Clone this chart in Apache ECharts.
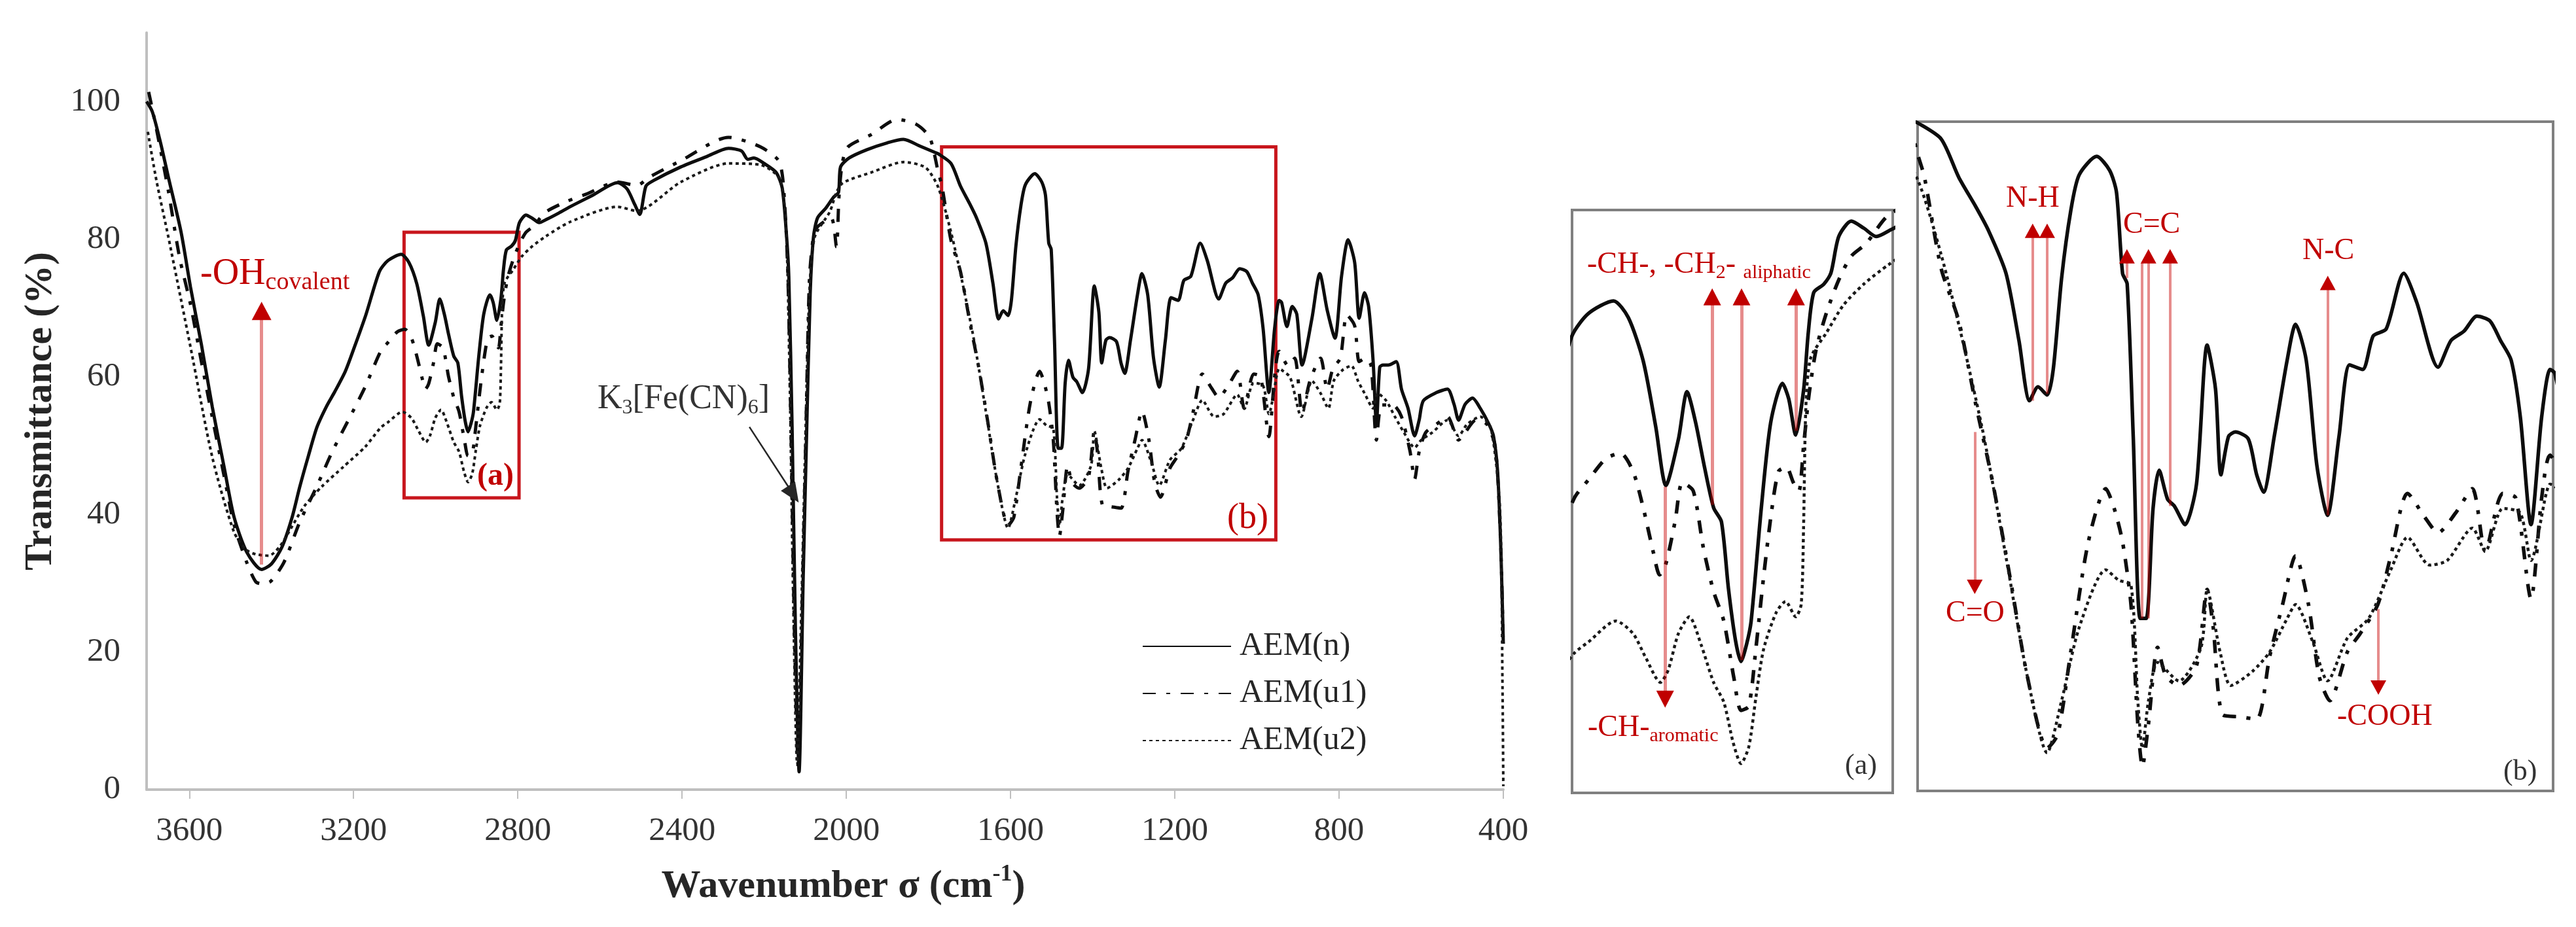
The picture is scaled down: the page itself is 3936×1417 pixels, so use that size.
<!DOCTYPE html>
<html>
<head>
<meta charset="utf-8">
<script src="https://cdn.jsdelivr.net/npm/echarts@6/dist/echarts.min.js"></script>
<style>
  html, body { margin: 0; background: #fff; }
  #chart { width: 3936px; height: 1417px; }
</style>
</head>
<body>
<div id="chart"></div>
<script>
const chart = echarts.init(document.getElementById('chart'));
const FONT = 'Liberation Serif';
const RED = '#C00000';
const PINK = 'rgba(200,0,0,0.45)';

// AEM(n) - solid
// prettier-ignore
const nX = [3704,3690,3670,3651,3620,3597,3570,3544,3515,3491,3460,3424,3400,3374,3350,3331,3310,3289,3265,3246,3220,3198,3170,3137,3116,3084,3065,3046,3030,3017,3001,2990,2979,2968,2956,2946,2937,2928,2921,2914,2908,2895,2883,2868,2860,2851,2841,2835,2828,2815,2806,2796,2780,2764,2748,2729,2700,2673,2620,2557,2534,2515,2503,2488,2470,2403,2340,2287,2255,2240,2225,2200,2171,2156,2145,2140,2132,2124,2115,2105,2097,2088,2080,2070,2050,2031,2019,2014,1993,1950,1900,1861,1820,1784,1776,1745,1722,1700,1683,1660,1643,1629,1618,1606,1598,1587,1575,1564,1541,1524,1515,1507,1501,1493,1484,1476,1467,1459,1448,1439,1425,1410,1396,1385,1378,1368,1359,1342,1331,1322,1308,1291,1280,1266,1252,1238,1223,1209,1192,1178,1161,1138,1121,1093,1076,1059,1042,1025,1011,997,985,971,957,946,940,927,914,903,890,866,847,829,810,794,778,762,751,738,728,717,709,701,693,680,661,648,632,616,605,595,563,536,520,509,493,475,456,435,424,414,406,400];
// prettier-ignore
const nY = [100.0,98.5,94.0,89.0,81.0,73.0,64.5,55.6,46.8,39.6,34.5,32.0,32.8,35.3,39.5,44.0,48.5,52.7,55.8,57.8,60.8,64.3,69.0,75.3,76.9,77.8,76.6,73.5,68.8,64.6,67.9,71.3,69.1,66.0,63.0,62.0,57.2,53.5,52.0,53.2,54.9,63.0,69.1,71.9,70.8,68.2,71.4,75.5,78.4,79.0,79.8,82.4,83.5,83.0,82.4,82.9,83.8,84.7,86.3,88.2,87.3,85.0,83.6,87.7,88.5,90.5,92.0,93.2,92.8,91.6,91.8,91.0,89.7,87.4,80.0,74.5,52.7,23.6,2.6,30.9,50.9,72.0,80.3,83.1,84.5,86.1,86.8,90.5,91.8,93.0,94.0,94.5,93.5,92.6,92.4,91.0,87.7,85.2,83.1,79.4,73.6,68.4,69.6,68.9,71.1,79.0,84.8,87.9,89.5,88.3,86.4,79.4,78.5,65.3,49.6,49.6,59.1,62.4,59.9,59.3,57.7,61.2,73.2,69.4,62.0,65.3,65.7,65.1,62.0,60.5,65.3,71.9,75.0,71.9,62.8,58.5,65.3,71.5,71.1,74.0,74.6,79.4,76.9,71.3,73.6,74.4,75.7,75.3,73.6,71.9,67.0,57.7,67.0,71.1,70.8,67.3,70.2,69.1,61.7,68.5,75.0,69.7,65.6,74.6,79.9,76.6,68.5,72.2,70.2,62.2,53.1,61.4,61.7,61.7,62.2,58.2,55.4,51.4,53.7,56.5,57.7,58.2,56.0,53.7,56.0,56.9,55.4,53.1,51.4,46.3,34.9,21.2];

// AEM(u1) - dash-dot
// prettier-ignore
const u1X = [3699,3680,3651,3624,3597,3570,3544,3515,3491,3460,3438,3420,3401,3369,3331,3290,3252,3210,3172,3134,3116,3094,3075,3059,3046,3033,3025,3017,3005,2996,2982,2969,2956,2943,2930,2921,2911,2902,2892,2882,2873,2863,2854,2847,2841,2834,2825,2812,2796,2780,2761,2733,2680,2635,2557,2510,2480,2400,2287,2209,2163,2150,2142,2134,2126,2117,2107,2099,2090,2080,2070,2037,2024,2018,2010,1996,1939,1876,1830,1797,1776,1767,1745,1722,1700,1677,1654,1632,1606,1592,1575,1552,1529,1518,1507,1496,1487,1481,1473,1461,1450,1433,1410,1396,1388,1376,1354,1331,1314,1297,1280,1263,1249,1235,1212,1195,1172,1155,1133,1110,1093,1070,1048,1031,1008,991,971,957,946,924,908,890,871,845,829,815,797,781,762,751,736,722,709,696,669,648,627,616,605,589,563,536,509,493,467,440,419,406,400];
// prettier-ignore
const u1Y = [101.4,96.0,87.0,77.4,70.5,62.0,54.1,45.5,38.5,33.0,30.2,29.9,30.3,33.1,38.9,44.0,49.1,54.0,58.5,63.7,65.0,66.5,66.9,65.6,63.0,59.8,58.2,59.0,62.1,64.8,64.2,60.1,57.0,54.9,50.8,48.5,48.8,52.9,58.1,62.7,65.6,65.9,64.8,64.2,67.4,71.1,74.3,76.9,79.3,81.0,81.9,83.9,85.5,86.5,88.3,87.8,89.0,91.5,94.8,93.4,91.2,85.0,74.0,50.0,22.0,3.0,28.0,50.0,74.0,80.5,81.8,83.1,78.9,86.0,91.0,93.4,95.2,97.4,96.7,94.8,89.7,87.7,79.8,75.3,68.2,61.2,52.9,44.6,38.4,39.6,46.7,56.2,60.8,59.1,56.2,50.8,40.5,36.8,40.5,47.1,44.6,43.8,45.5,52.1,48.8,41.3,41.1,40.9,46.3,50.8,55.0,50.8,44.6,42.5,46.7,48.3,50.8,55.0,60.4,58.3,57.0,58.7,60.8,55.4,60.4,60.0,51.3,60.0,63.7,61.6,62.7,54.8,59.4,62.7,58.2,61.2,62.7,69.0,67.4,62.2,62.7,61.6,50.8,55.9,55.9,54.2,49.1,45.1,49.1,51.9,53.1,54.2,50.8,51.9,53.7,53.1,49.6,34.9,20.6];

// AEM(u2) - dotted
// prettier-ignore
const u2X = [3701,3680,3651,3597,3544,3491,3460,3438,3406,3380,3358,3321,3278,3225,3172,3134,3116,3081,3059,3043,3024,3014,3001,2987,2972,2956,2943,2931,2921,2911,2902,2892,2876,2864,2851,2844,2841,2838,2832,2812,2790,2764,2732,2673,2557,2510,2403,2287,2209,2163,2147,2138,2130,2120,2110,2100,2090,2077,2040,2024,2008,1939,1861,1807,1776,1745,1717,1689,1660,1632,1606,1587,1564,1529,1512,1496,1487,1481,1473,1461,1433,1404,1396,1379,1365,1337,1314,1291,1280,1257,1238,1212,1184,1155,1133,1104,1081,1048,1031,1008,985,971,951,946,940,919,892,866,845,826,813,791,770,754,738,717,706,685,664,642,616,600,573,536,509,488,456,430,408,402,400];
// prettier-ignore
const u2Y = [95.6,88.5,80.3,64.3,48.3,37.4,34.8,34.2,34.0,35.3,37.4,41.1,44.0,46.9,49.8,52.6,53.4,54.9,54.0,52.3,50.5,51.4,54.0,55.2,53.2,50.5,49.1,46.2,44.7,45.9,49.4,52.9,55.5,56.3,55.2,56.1,61.6,70.3,73.7,75.5,77.5,79.0,80.4,82.5,84.7,84.1,88.3,91.0,90.8,88.8,81.8,60.0,30.0,4.0,25.0,50.0,72.0,80.3,84.0,86.8,88.2,89.7,91.2,90.4,87.5,81.0,73.6,65.3,54.9,44.6,38.0,42.5,48.8,53.8,52.9,52.5,42.5,38.4,42.5,45.8,44.2,47.1,52.1,46.7,43.8,45.0,46.7,49.6,50.8,47.5,44.2,47.9,49.6,53.8,56.6,54.2,54.6,57.4,55.4,59.1,58.7,54.6,60.4,61.2,61.0,59.9,54.2,59.4,57.6,55.4,59.4,61.0,61.6,59.4,57.6,55.4,57.6,56.5,54.2,51.9,49.7,50.8,51.9,53.7,51.4,53.1,54.2,52.5,40.6,15.0,0.5];

const names = ['AEM(n)', 'AEM(u1)', 'AEM(u2)'];
const pairs = (xs, ys) => xs.map((x, i) => [x, ys[i]]);
const seriesData = [pairs(nX, nY), pairs(u1X, u1Y), pairs(u2X, u2Y)];
const lineStyles = [
  { color: '#0d0d0d', width: 5, type: 'solid' },
  { color: '#0d0d0d', width: 5, type: [20, 16, 6, 16] },
  { color: '#1a1a1a', width: 4, type: [5, 5] }
];

// arrow helpers (data space of each grid)
function arrowLine(x, y1, y2) {
  return [{ coord: [x, y1] }, { coord: [x, y2] }];
}
function arrowHead(x, y, up, size) {
  return {
    coord: [x, y],
    symbol: 'triangle',
    symbolSize: size,
    symbolRotate: up ? 0 : 180,
    symbolOffset: [0, up ? '50%' : '-50%']
  };
}
const redLine = { color: PINK, width: 5, type: 'solid' };

const markers = [
  // main grid
  {
    markArea: {
      silent: true,
      itemStyle: { color: 'rgba(0,0,0,0)', borderColor: '#C8161D', borderWidth: 5 },
      data: [
        [{ coord: [3077, 81.0] }, { coord: [2797, 42.4] }],
        [{ coord: [1768, 93.4] }, { coord: [954, 36.3] }]
      ]
    },
    markLine: {
      silent: true,
      label: { show: false },
      data: [
        arrowLine(3424, 32.7, 68.8),
        [
          { coord: [2236, 52.7], symbol: 'none', lineStyle: { color: '#262626', width: 2.5 } },
          { coord: [2129, 42.9], symbol: 'triangle', symbolSize: [26, 30], lineStyle: { color: '#262626', width: 2.5 } }
        ]
      ],
      symbol: ['none', 'none'],
      lineStyle: redLine
    },
    markPoint: {
      silent: true,
      label: { show: false },
      itemStyle: { color: RED },
      data: [arrowHead(3424, 70.9, true, [30, 28])]
    }
  },
  // inset (a)
  {
    markLine: {
      silent: true,
      label: { show: false },
      symbol: ['none', 'none'],
      lineStyle: redLine,
      data: [
        arrowLine(2957.8, 63.2, 77.6),
        arrowLine(2920.3, 52.1, 77.6),
        arrowLine(2850.6, 68.5, 77.6),
        arrowLine(3018, 64.5, 49.8)
      ]
    },
    markPoint: {
      silent: true,
      label: { show: false },
      itemStyle: { color: RED },
      data: [
        arrowHead(2957.8, 78.7, true, [27, 26]),
        arrowHead(2920.3, 78.7, true, [27, 26]),
        arrowHead(2850.6, 78.7, true, [27, 26]),
        arrowHead(3018, 48.7, false, [27, 26])
      ]
    }
  },
  // inset (b)
  {
    markLine: {
      silent: true,
      label: { show: false },
      symbol: ['none', 'none'],
      lineStyle: { color: PINK, width: 4, type: 'solid' },
      data: [
        arrowLine(1625, 68.4, 82.6),
        arrowLine(1606, 69.0, 82.6),
        arrowLine(1501.3, 79.0, 80.5),
        arrowLine(1481.5, 49.6, 80.3),
        arrowLine(1473, 49.6, 80.4),
        arrowLine(1444.6, 59.3, 80.4),
        arrowLine(1237.7, 58.5, 78.1),
        arrowLine(1701, 65.7, 52.8),
        arrowLine(1171.3, 50.4, 44.1)
      ]
    },
    markPoint: {
      silent: true,
      label: { show: false },
      itemStyle: { color: RED },
      data: [
        arrowHead(1625, 83.7, true, [24, 22]),
        arrowHead(1606, 83.7, true, [24, 22]),
        arrowHead(1501.3, 81.5, true, [24, 22]),
        arrowHead(1473, 81.5, true, [24, 22]),
        arrowHead(1444.6, 81.5, true, [24, 22]),
        arrowHead(1237.7, 79.2, true, [24, 22]),
        arrowHead(1701, 51.7, false, [24, 22]),
        arrowHead(1171.3, 43.0, false, [24, 22])
      ]
    }
  }
];

const series = [];
[0, 1, 2].forEach(function (g) {
  names.forEach(function (name, i) {
    const s = {
      name: name,
      type: 'line',
      xAxisIndex: g,
      yAxisIndex: g,
      data: seriesData[i],
      symbol: 'none',
      smooth: 0.25,
      lineStyle: Object.assign({}, lineStyles[i], g > 0 ? { width: lineStyles[i].width + 0.5 } : {}),
      itemStyle: { color: lineStyles[i].color },
      emphasis: { disabled: true },
      z: 3
    };
    if (i === 0) Object.assign(s, markers[g]);
    series.push(s);
  });
});

const axisText = { fontFamily: FONT, fontSize: 51, color: '#333' };
const hidden = { show: false };

function txt(x, y, text, rich, extra) {
  return {
    type: 'text',
    x: x,
    y: y,
    silent: true,
    z: 100,
    style: Object.assign({
      text: text,
      rich: rich,
      align: 'left',
      verticalAlign: 'middle',
      fontFamily: FONT
    }, extra || {})
  };
}
const tok = (size, color, lh, va, weight) => ({
  fontFamily: FONT, fontSize: size, fill: color, lineHeight: lh,
  verticalAlign: va || 'middle', fontWeight: weight || 'normal'
});

const option = {
  animation: false,
  backgroundColor: '#fff',
  grid: [
    { left: 224, top: 50, width: 2073, height: 1157 },
    { left: 2402, top: 321, width: 490, height: 891, show: true, borderColor: '#808080', borderWidth: 4, backgroundColor: '#fff' },
    { left: 2930, top: 186, width: 971, height: 1023, show: true, borderColor: '#808080', borderWidth: 4, backgroundColor: '#fff' }
  ],
  xAxis: [
    {
      type: 'value', gridIndex: 0, min: 400, max: 3704, interval: 400, inverse: true,
      name: 'Wavenumber σ (cm{sup|-1})',
      nameLocation: 'middle',
      nameGap: 112,
      nameTextStyle: {
        fontFamily: FONT, fontSize: 60, fontWeight: 'bold', color: '#262626', lineHeight: 72,
        padding: [0, 0, 0, 56],
        rich: { sup: { fontFamily: FONT, fontSize: 36, fontWeight: 'bold', color: '#262626', lineHeight: 40, verticalAlign: 'top' } }
      },
      axisLine: { lineStyle: { color: '#BFBFBF', width: 4 } },
      axisTick: { show: true, length: 14, lineStyle: { color: '#BFBFBF', width: 2 } },
      axisLabel: Object.assign({ margin: 38, showMaxLabel: false, formatter: v => String(v) }, axisText),
      splitLine: hidden
    },
    { type: 'value', gridIndex: 1, min: 2727, max: 3137, inverse: true, show: false, splitLine: hidden },
    { type: 'value', gridIndex: 2, min: 942, max: 1776, inverse: true, show: false, splitLine: hidden }
  ],
  yAxis: [
    {
      type: 'value', gridIndex: 0, min: 0, max: 110, interval: 20,
      name: 'Transmittance (%)',
      nameLocation: 'middle',
      nameGap: 132,
      nameTextStyle: { fontFamily: FONT, fontSize: 60, fontWeight: 'bold', color: '#262626' },
      axisLine: { show: true, lineStyle: { color: '#BFBFBF', width: 4 } },
      axisTick: hidden,
      axisLabel: Object.assign({ margin: 40, showMaxLabel: false, formatter: v => String(v) }, axisText),
      splitLine: hidden
    },
    { type: 'value', gridIndex: 1, min: 42.6, max: 84.3, show: false, splitLine: hidden },
    { type: 'value', gridIndex: 2, min: 34.7, max: 92.5, show: false, splitLine: hidden }
  ],
  legend: {
    data: names,
    orient: 'vertical',
    left: 1740,
    top: 958,
    itemWidth: 135,
    itemHeight: 14,
    itemGap: 22,
    selectedMode: false,
    itemStyle: { opacity: 0 },
    textStyle: { fontFamily: FONT, fontSize: 50, color: '#262626', padding: [0, 0, 0, 8] }
  },
  graphic: [
    txt(306, 419, '{m|-OH}{s|covalent}', { m: tok(56, RED, 64), s: tok(38, RED, 34, 'bottom') }),
    txt(913, 610, '{m|K}{s|3}{m|[Fe(CN)}{s|6}{m|]}', { m: tok(52, '#333', 60), s: tok(32, '#333', 40, 'bottom') }),
    txt(729, 729, '(a)', null, { fontSize: 48, fontWeight: 'bold', fill: RED }),
    txt(1875, 793, '(b)', null, { fontSize: 54, fill: RED }),
    txt(2425, 405, '{m|-CH-, -CH}{s|2}{m|- }{s|aliphatic}', { m: tok(46, RED, 54), s: tok(30, RED, 36, 'bottom') }),
    txt(2426, 1113, '{m|-CH-}{s|aromatic}', { m: tok(46, RED, 54), s: tok(30, RED, 36, 'bottom') }),
    txt(2819, 1171, '(a)', null, { fontSize: 44, fill: '#333' }),
    txt(3065, 304, 'N-H', null, { fontSize: 46, fill: RED }),
    txt(3244, 344, 'C=C', null, { fontSize: 46, fill: RED }),
    txt(3518, 384, 'N-C', null, { fontSize: 46, fill: RED }),
    txt(2973, 938, 'C=O', null, { fontSize: 46, fill: RED }),
    txt(3571, 1096, '-COOH', null, { fontSize: 46, fill: RED }),
    txt(3825, 1180, '(b)', null, { fontSize: 44, fill: '#333' })
  ],
  series: series
};

chart.setOption(option);
window.addEventListener('resize', function () { chart.resize(); });
</script>
</body>
</html>
